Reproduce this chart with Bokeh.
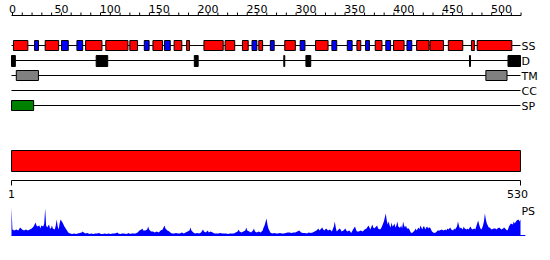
from bokeh.plotting import figure
from bokeh.models import Range1d
from bokeh.core.properties import value
from bokeh.embed import file_html
from bokeh.resources import INLINE

# ---------------- data ----------------
seq_len = 530
track_names = ["SS", "D", "TM", "CC", "SP"]
ruler_ticks = list(range(0, 521, 10))
ruler_labels = [0, 50, 100, 150, 200, 250, 300, 350, 400, 450, 500]

helix_start = [3, 36, 78, 99, 124, 148, 170, 183, 201, 223, 241, 258, 285, 317, 360, 379, 398, 422, 436, 455, 479, 485]
helix_end   = [18, 50, 95, 122, 132, 158, 178, 186, 221, 233, 247, 262, 296, 330, 364, 386, 409, 435, 450, 470, 482, 521]
strand_start = [25, 53, 69, 139, 160, 251, 270, 301, 334, 350, 369, 390, 412]
strand_end   = [29, 60, 75, 144, 166, 256, 274, 306, 339, 355, 373, 395, 417]
disorder_start = [1, 89, 191, 284, 307, 477, 517]
disorder_end   = [5, 101, 195, 285, 312, 478, 530]
tm_start = [6, 494]
tm_end = [29, 516]
cc_start = []
cc_end = []
sp_start = [1]
sp_end = [24]
domain_start = [1]
domain_end = [530]

ps_pos = [1, 2, 4, 6, 8, 10, 12, 14, 16, 18, 20, 22, 24, 26, 27, 28, 30, 31, 32, 34, 35, 36, 37, 38, 40, 41, 42, 43, 44, 46,
          47, 48, 49, 50, 51, 52, 54, 56, 58, 60, 62, 64, 66, 68, 70, 72, 74, 75, 76, 78, 80, 82, 84, 86, 88, 90, 92, 94, 96, 98,
          100, 102, 104, 106, 108, 110, 111, 112, 114, 116, 118, 120, 122, 123, 124, 126, 128, 130, 132, 134, 136, 137, 138, 140, 142, 143, 144, 146, 148, 150,
          152, 154, 156, 158, 160, 161, 163, 165, 166, 168, 170, 172, 174, 176, 178, 180, 182, 184, 186, 187, 188, 190, 192, 194, 196, 198, 200, 201, 203, 205,
          206, 208, 210, 212, 214, 216, 218, 220, 222, 224, 226, 228, 230, 232, 234, 236, 237, 238, 240, 242, 244, 245, 246, 248, 250, 252, 253, 254, 256, 258,
          260, 262, 263, 264, 266, 267, 268, 270, 272, 274, 276, 278, 280, 282, 284, 286, 288, 290, 292, 294, 296, 298, 300, 301, 302, 304, 306, 308, 310, 312,
          314, 316, 318, 320, 321, 322, 324, 325, 326, 328, 330, 332, 334, 336, 337, 338, 339, 340, 342, 343, 344, 346, 348, 349, 350, 352, 353, 354, 356, 358,
          359, 360, 362, 364, 366, 368, 370, 372, 373, 374, 376, 377, 378, 380, 381, 382, 384, 385, 386, 388, 390, 391, 392, 393, 394, 395, 396, 397, 398, 399,
          400, 401, 402, 403, 404, 405, 406, 407, 408, 409, 410, 411, 412, 414, 415, 416, 417, 418, 420, 421, 422, 424, 425, 426, 427, 428, 429, 430, 431, 432,
          433, 434, 435, 436, 438, 440, 442, 444, 446, 448, 450, 452, 453, 454, 455, 456, 457, 458, 460, 461, 462, 464, 465, 466, 467, 468, 470, 471, 472, 474,
          475, 476, 478, 479, 480, 482, 483, 484, 486, 487, 488, 489, 490, 491, 492, 493, 494, 495, 496, 497, 498, 499, 500, 502, 504, 505, 506, 508, 509, 510,
          512, 513, 514, 516, 517, 518, 520, 522, 523, 524, 526, 528, 529, 530]
ps_val = [28, 6, 5, 6, 5, 8, 6, 5, 6, 5, 6, 7, 9, 13, 10, 9, 10, 7, 10, 9, 12, 27, 10, 8, 11, 7, 7, 10, 7, 6,
          10, 16, 9, 6, 12, 16, 13, 9, 6, 3, 2, 1.5, 2, 1.5, 2, 2.5, 3, 4, 3, 2, 2.5, 1.5, 2, 1.5, 2, 2, 2.5, 1.5, 1.5, 2,
          1.5, 2, 1.5, 2, 2, 2.5, 3, 2, 1.5, 2, 2, 1.5, 2, 2.5, 1.5, 2, 2, 2, 3, 5, 6, 7, 5, 5, 6, 9, 6, 4, 4, 3,
          4, 3, 5, 6, 10, 7, 5, 4, 3, 2, 2, 2.5, 2, 2, 3, 2, 3, 4, 5, 8, 5, 3, 2, 2.5, 2, 3, 6, 4, 3, 5,
          3, 4, 3, 2, 2, 2, 2.5, 2, 2, 2, 1.5, 2, 2, 2, 3, 4, 6, 4, 3, 4, 5, 8, 5, 4, 3, 5, 7, 4, 3, 4,
          3, 5, 8, 10, 17, 11, 7, 3, 2, 2.5, 2, 2, 2.5, 2, 2, 2.5, 3, 3, 2.5, 3, 3, 4, 5, 4, 3, 2.5, 2.5, 2, 3, 2.5,
          3, 4, 5, 7, 5, 6, 8, 6, 5, 7, 5, 6, 4, 9, 14, 8, 4, 5, 7, 6, 4, 5, 7, 5, 4, 5, 4, 2.5, 6, 9,
          6, 4, 4, 5, 4, 6, 7, 10, 8, 6, 11, 8, 7, 9, 10, 7, 6, 7, 9, 14, 22, 15, 11, 14, 10, 8, 13, 9, 10, 12,
          8, 10, 14, 9, 8, 8, 10, 7, 14, 10, 8, 10, 7, 7, 5, 3, 2.5, 3, 5, 7, 5, 8, 6, 10, 8, 6, 9, 9, 6, 8,
          9, 7, 8, 8, 4, 2.5, 3, 5, 5, 6, 5, 6, 5, 7, 6, 7, 8, 6, 5, 7, 6, 9, 14, 10, 7, 8, 6, 9, 7, 6,
          7, 6, 9, 7, 6, 7, 6, 9, 15, 11, 8, 6, 7, 10, 14, 22, 16, 12, 10, 8, 8, 7, 6, 7, 7, 6, 7, 8, 7, 6,
          7, 8, 7, 5, 6, 9, 12, 11, 14, 12, 15, 16, 14, 16]

# ---------------- layout (pixel rows, top = 0) ----------------
W, H = 550, 260
ruler_y = 15
row_y = {"SS": 45, "D": 60, "TM": 75, "CC": 90, "SP": 105}
box_half = 5
bar_top, bar_bot = 150, 171
axis_y = 180
ps_label_y = 211

p = figure(width=W, height=H, output_backend="svg", toolbar_location=None,
           x_axis_location=None, y_axis_location=None, min_border=0,
           x_range=Range1d(-10.432, 561.18), y_range=Range1d(H, 0))
p.outline_line_color = None
p.grid.visible = False
p.background_fill_color = "white"
p.border_fill_color = "white"
p.extra_x_ranges = {"ruler": Range1d(-12.27, 550.1)}
p.extra_y_ranges = {"ps": Range1d(-25, 235)}

font = value("DejaVu Sans")

# top ruler
p.segment(x0=[-1], x1=[520], y0=[ruler_y], y1=[ruler_y], x_range_name="ruler", line_color="black", line_width=1)
p.segment(x0=ruler_ticks, x1=ruler_ticks, y0=[ruler_y - 3] * len(ruler_ticks), y1=[ruler_y] * len(ruler_ticks),
          x_range_name="ruler", line_color="black", line_width=1)
p.text(x=ruler_labels, y=[ruler_y - 7] * len(ruler_labels), text=[str(v) for v in ruler_labels],
       x_range_name="ruler", text_font=font, text_font_size="11px", text_align="center",
       text_baseline="middle", text_color="black")

# track lines + labels
for name in track_names:
    y = row_y[name]
    p.segment(x0=[1], x1=[seq_len], y0=[y], y1=[y], line_color="black", line_width=1)
p.text(x=[seq_len + 1] * len(track_names), y=[row_y[n] + 1 for n in track_names], text=track_names,
       text_font=font, text_font_size="11px", text_align="left", text_baseline="middle", text_color="black")

def boxes(starts, ends, y, fill, line="black", half=box_half, extra=0):
    if not starts:
        return
    p.quad(left=starts, right=ends, top=[y - half] * len(starts), bottom=[y + half + extra] * len(starts),
           fill_color=fill, line_color=line, line_width=1)

boxes(helix_start, helix_end, row_y["SS"], "#ff0000")
boxes(strand_start, strand_end, row_y["SS"], "#0000ff")
boxes(disorder_start, disorder_end, row_y["D"], "black", extra=1)
boxes(tm_start, tm_end, row_y["TM"], "#808080")
boxes(cc_start, cc_end, row_y["CC"], "#ffff00")
boxes(sp_start, sp_end, row_y["SP"], "#008000")

# domain bar
p.quad(left=domain_start, right=domain_end, top=[bar_top], bottom=[bar_bot],
       fill_color="#ff0000", line_color="black", line_width=1)

# sequence axis
p.segment(x0=[1], x1=[seq_len], y0=[axis_y], y1=[axis_y], line_color="black", line_width=1)
p.segment(x0=[1, seq_len], x1=[1, seq_len], y0=[axis_y] * 2, y1=[axis_y + 5] * 2, line_color="black", line_width=1)
p.text(x=[1], y=[axis_y + 13], text=["1"], text_font=font, text_font_size="11px",
       text_align="center", text_baseline="middle", text_color="black")
p.text(x=[seq_len], y=[axis_y + 13], text=[str(seq_len)], text_font=font, text_font_size="11px",
       text_align="center", text_baseline="middle", text_color="black", x_offset=-3)

# PS profile
p.varea(x=ps_pos, y1=[0] * len(ps_pos), y2=ps_val, y_range_name="ps", fill_color="#0000ff")
p.segment(x0=[1], x1=[seq_len + 5], y0=[0], y1=[0], y_range_name="ps", line_color="#0000ff", line_width=1)
p.text(x=[seq_len + 1], y=[ps_label_y], text=["PS"], text_font=font, text_font_size="11px",
       text_align="left", text_baseline="middle", text_color="black")

open("out.html", "w").write(file_html(p, INLINE))
